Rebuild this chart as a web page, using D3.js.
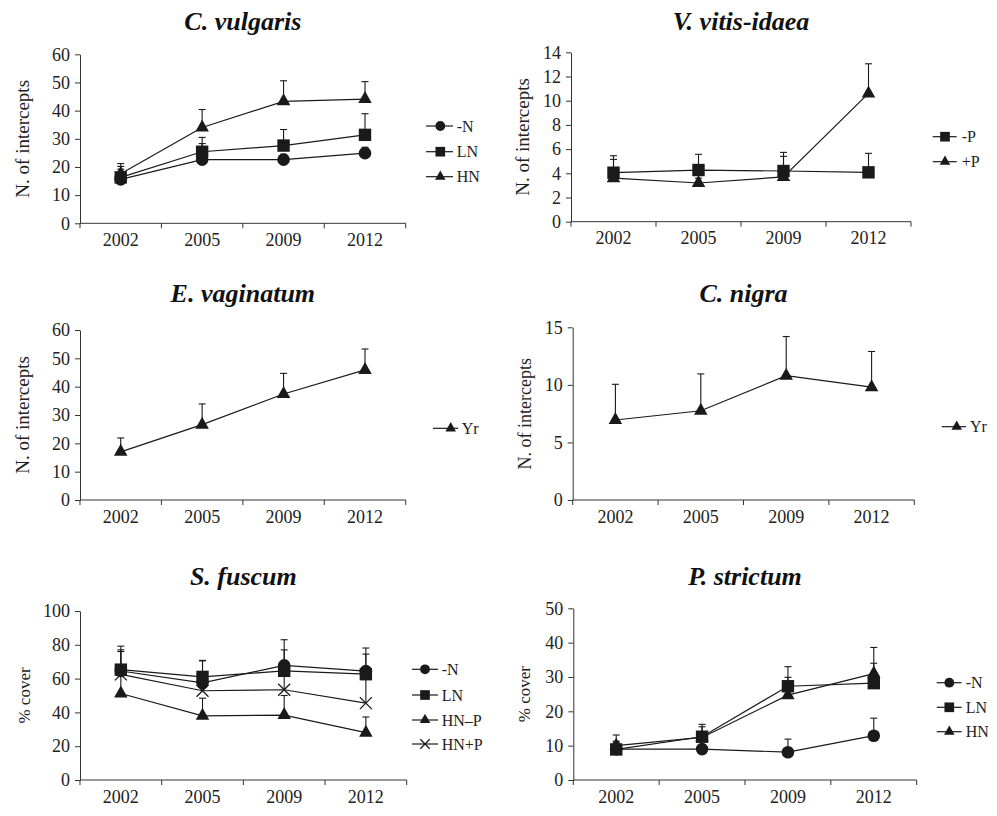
<!DOCTYPE html>
<html>
<head>
<meta charset="UTF-8">
<script src="https://cdn.jsdelivr.net/npm/d3@7"></script>
<style>
body{margin:0;background:#fff;}
svg{display:block;font-family:"Liberation Serif","Times New Roman",serif;}
</style>
</head>
<body>
<svg id="chart" width="997" height="816"></svg>
<script>
const years = ["2002", "2005", "2009", "2012"];

// C. vulgaris
const cvTicks = [0, 10, 20, 30, 40, 50, 60];
const cvN = [15.6, 22.6, 22.6, 24.9],   cvNErr = [19.2, 28.3, 24.5, 27.0];
const cvLN = [16.3, 25.4, 27.6, 31.4],  cvLNErr = [20.2, 30.5, 33.3, 38.9];
const cvHN = [17.6, 34.0, 43.3, 44.1],  cvHNErr = [21.2, 40.4, 50.6, 50.3];

// V. vitis-idaea
const vvTicks = [0, 2, 4, 6, 8, 10, 12, 14];
const vvMinusP = [4.05, 4.27, 4.19, 4.08], vvMinusPErr = [5.45, 5.57, 5.73, 5.65];
const vvPlusP = [3.6, 3.2, 3.7, 10.6],     vvPlusPErr = [5.15, 3.6, 5.4, 13.05];

// E. vaginatum
const evTicks = [0, 10, 20, 30, 40, 50, 60];
const evYr = [17.0, 26.6, 37.4, 45.9], evYrErr = [21.9, 33.9, 44.7, 53.3];

// C. nigra
const cnTicks = [0, 5, 10, 15];
const cnYr = [6.95, 7.75, 10.8, 9.8], cnYrErr = [10.05, 10.95, 14.2, 12.9];

// S. fuscum
const sfTicks = [0, 20, 40, 60, 80, 100];
const sfN = [64.5, 57.5, 67.8, 64.4],     sfNErr = [79.2, 70.8, 83.0, 78.1];
const sfLN = [65.3, 61.0, 64.6, 62.6],    sfLNErr = [77.0, 70.5, 77.0, 74.5];
const sfHNmP = [51.2, 38.0, 38.4, 28.0],  sfHNmPErr = [62.0, 48.4, 50.0, 37.3];
const sfHNpP = [62.5, 52.8, 53.4, 45.5],  sfHNpPErr = [76.0, 57.0, 62.0, 60.0];

// P. strictum
const psTicks = [0, 10, 20, 30, 40, 50];
const psN = [9.0, 9.0, 8.1, 12.9],    psNErr = [11.0, 10.0, 11.9, 18.0];
const psLN = [8.9, 12.6, 27.3, 28.2], psLNErr = [13.1, 16.2, 33.0, 34.0];
const psHN = [10.0, 12.4, 24.7, 31.0], psHNErr = [11.3, 15.5, 29.9, 38.6];

const ink = "#1a1a1a";
const svg = d3.select("#chart");

function marker(g, type, cx, cy, k) {
  k = k || 1;
  if (type === "circle") {
    g.append("circle").attr("cx", cx).attr("cy", cy).attr("r", 6.3 * k).attr("fill", ink);
  } else if (type === "square") {
    const s = 12.4 * k;
    g.append("rect").attr("x", cx - s / 2).attr("y", cy - s / 2).attr("width", s).attr("height", s).attr("fill", ink);
  } else if (type === "triangle") {
    const w = 13.5 * k, h = 12 * k;
    g.append("path").attr("d", `M${cx},${cy - h * 2 / 3}L${cx + w / 2},${cy + h / 3}L${cx - w / 2},${cy + h / 3}Z`).attr("fill", ink);
  } else if (type === "cross") {
    const s = 6 * k;
    g.append("path").attr("d", `M${cx - s},${cy - s}L${cx + s},${cy + s}M${cx - s},${cy + s}L${cx + s},${cy - s}`)
      .attr("stroke", ink).attr("stroke-width", 1.3).attr("fill", "none");
  }
}

function panel(p) {
  const g = svg.append("g");
  const x = d3.scaleBand().domain(years).range([p.x0, p.x1]);
  const y = d3.scaleLinear().domain([0, d3.max(p.ticks)]).range([p.yBot, p.yTop]);

  // title
  g.append("text").attr("x", (p.x0 + p.x1) / 2).attr("y", p.titleY)
    .attr("text-anchor", "middle").attr("font-size", 26).attr("font-weight", "bold")
    .attr("font-style", "italic").attr("fill", "#111").text(p.title);

  // y axis
  const ya = g.append("g").attr("transform", `translate(${p.x0},0)`)
    .call(d3.axisLeft(y).tickValues(p.ticks).tickSize(5).tickSizeOuter(0).tickPadding(5));
  ya.selectAll("text").attr("font-size", 18).attr("font-family", "Liberation Serif").attr("fill", "#222");
  ya.selectAll("line,path").attr("stroke", "#333");

  // x axis: labels at band centres, ticks at band edges
  const xa = g.append("g").attr("transform", `translate(0,${p.yBot})`)
    .call(d3.axisBottom(x).tickSize(0).tickPadding(10));
  xa.select(".domain").remove();
  xa.selectAll("text").attr("font-size", 18).attr("font-family", "Liberation Serif").attr("fill", "#222");
  g.append("line").attr("x1", p.x0).attr("x2", p.x1).attr("y1", p.yBot).attr("y2", p.yBot).attr("stroke", "#333");
  const edges = years.map(d => x(d)).concat([p.x1]);
  g.selectAll(null).data(edges).enter().append("line")
    .attr("x1", d => d).attr("x2", d => d).attr("y1", p.yBot).attr("y2", p.yBot + 5).attr("stroke", "#333");

  // y label
  g.append("text").attr("transform", `translate(${p.labelX},${(p.yTop + p.yBot) / 2}) rotate(-90)`)
    .attr("text-anchor", "middle").attr("font-size", p.labelSize).attr("fill", "#222").text(p.ylabel);

  const cx = d => x(d) + x.bandwidth() / 2;

  // error bars (upper only)
  p.series.forEach(s => {
    years.forEach((yr, i) => {
      g.append("line").attr("x1", cx(yr)).attr("x2", cx(yr)).attr("y1", y(s.v[i])).attr("y2", y(s.e[i]))
        .attr("stroke", ink).attr("stroke-width", 1.1);
      g.append("line").attr("x1", cx(yr) - 3.5).attr("x2", cx(yr) + 3.5).attr("y1", y(s.e[i])).attr("y2", y(s.e[i]))
        .attr("stroke", ink).attr("stroke-width", 1.1);
    });
  });
  // lines
  const line = d3.line().x((d, i) => cx(years[i])).y(d => y(d));
  p.series.forEach(s => {
    g.append("path").attr("d", line(s.v)).attr("fill", "none").attr("stroke", ink).attr("stroke-width", 1.2);
  });
  // markers
  p.series.forEach(s => {
    s.v.forEach((v, i) => marker(g, s.m, cx(years[i]), y(v)));
  });

  // legend
  p.series.forEach((s, i) => {
    const ly = p.legY[i];
    g.append("line").attr("x1", p.legX0).attr("x2", p.legX1).attr("y1", ly).attr("y2", ly)
      .attr("stroke", ink).attr("stroke-width", 1.2);
    marker(g, s.m, p.legM, ly, 0.78);
    g.append("text").attr("x", p.legT).attr("y", ly).attr("dy", "0.35em")
      .attr("font-size", 16).attr("fill", "#222").text(s.name);
  });
}

panel({title: "C. vulgaris", ticks: cvTicks, ylabel: "N. of intercepts", labelSize: 19,
  x0: 80, x1: 405.7, yTop: 54.3, yBot: 223.3, titleY: 30, labelX: 29,
  legX0: 426, legX1: 453, legM: 440.3, legT: 456.7, legY: [126, 151.7, 176.7],
  series: [{name: "-N", m: "circle", v: cvN, e: cvNErr},
           {name: "LN", m: "square", v: cvLN, e: cvLNErr},
           {name: "HN", m: "triangle", v: cvHN, e: cvHNErr}]});

panel({title: "V. vitis-idaea", ticks: vvTicks, ylabel: "N. of intercepts", labelSize: 19,
  x0: 571, x1: 911, yTop: 52.3, yBot: 221.7, titleY: 30, labelX: 529,
  legX0: 932.7, legX1: 956.7, legM: 945, legT: 961.7, legY: [136.7, 161.7],
  series: [{name: "-P", m: "square", v: vvMinusP, e: vvMinusPErr},
           {name: "+P", m: "triangle", v: vvPlusP, e: vvPlusPErr}]});

panel({title: "E. vaginatum", ticks: evTicks, ylabel: "N. of intercepts", labelSize: 19,
  x0: 80, x1: 405.7, yTop: 330, yBot: 500, titleY: 301.7, labelX: 29,
  legX0: 433, legX1: 458, legM: 450.7, legT: 461.7, legY: [428.3],
  series: [{name: "Yr", m: "triangle", v: evYr, e: evYrErr}]});

panel({title: "C. nigra", ticks: cnTicks, ylabel: "N. of intercepts", labelSize: 18,
  x0: 572.7, x1: 914.3, yTop: 327.3, yBot: 500, titleY: 301.7, labelX: 530.7,
  legX0: 941.7, legX1: 966, legM: 956.7, legT: 970, legY: [426.7],
  series: [{name: "Yr", m: "triangle", v: cnYr, e: cnYrErr}]});

panel({title: "S. fuscum", ticks: sfTicks, ylabel: "% cover", labelSize: 17,
  x0: 80, x1: 406.7, yTop: 611, yBot: 780, titleY: 585, labelX: 30,
  legX0: 412, legX1: 438, legM: 425, legT: 441.7, legY: [669.3, 695, 720, 744],
  series: [{name: "-N", m: "circle", v: sfN, e: sfNErr},
           {name: "LN", m: "square", v: sfLN, e: sfLNErr},
           {name: "HN\u2013P", m: "triangle", v: sfHNmP, e: sfHNmPErr},
           {name: "HN+P", m: "cross", v: sfHNpP, e: sfHNpPErr}]});

panel({title: "P. strictum", ticks: psTicks, ylabel: "% cover", labelSize: 17,
  x0: 573.3, x1: 916.7, yTop: 608.3, yBot: 780, titleY: 585, labelX: 530,
  legX0: 936.7, legX1: 961.7, legM: 949.3, legT: 965.7, legY: [682.7, 707.3, 731.7],
  series: [{name: "-N", m: "circle", v: psN, e: psNErr},
           {name: "LN", m: "square", v: psLN, e: psLNErr},
           {name: "HN", m: "triangle", v: psHN, e: psHNErr}]});
</script>
</body>
</html>
